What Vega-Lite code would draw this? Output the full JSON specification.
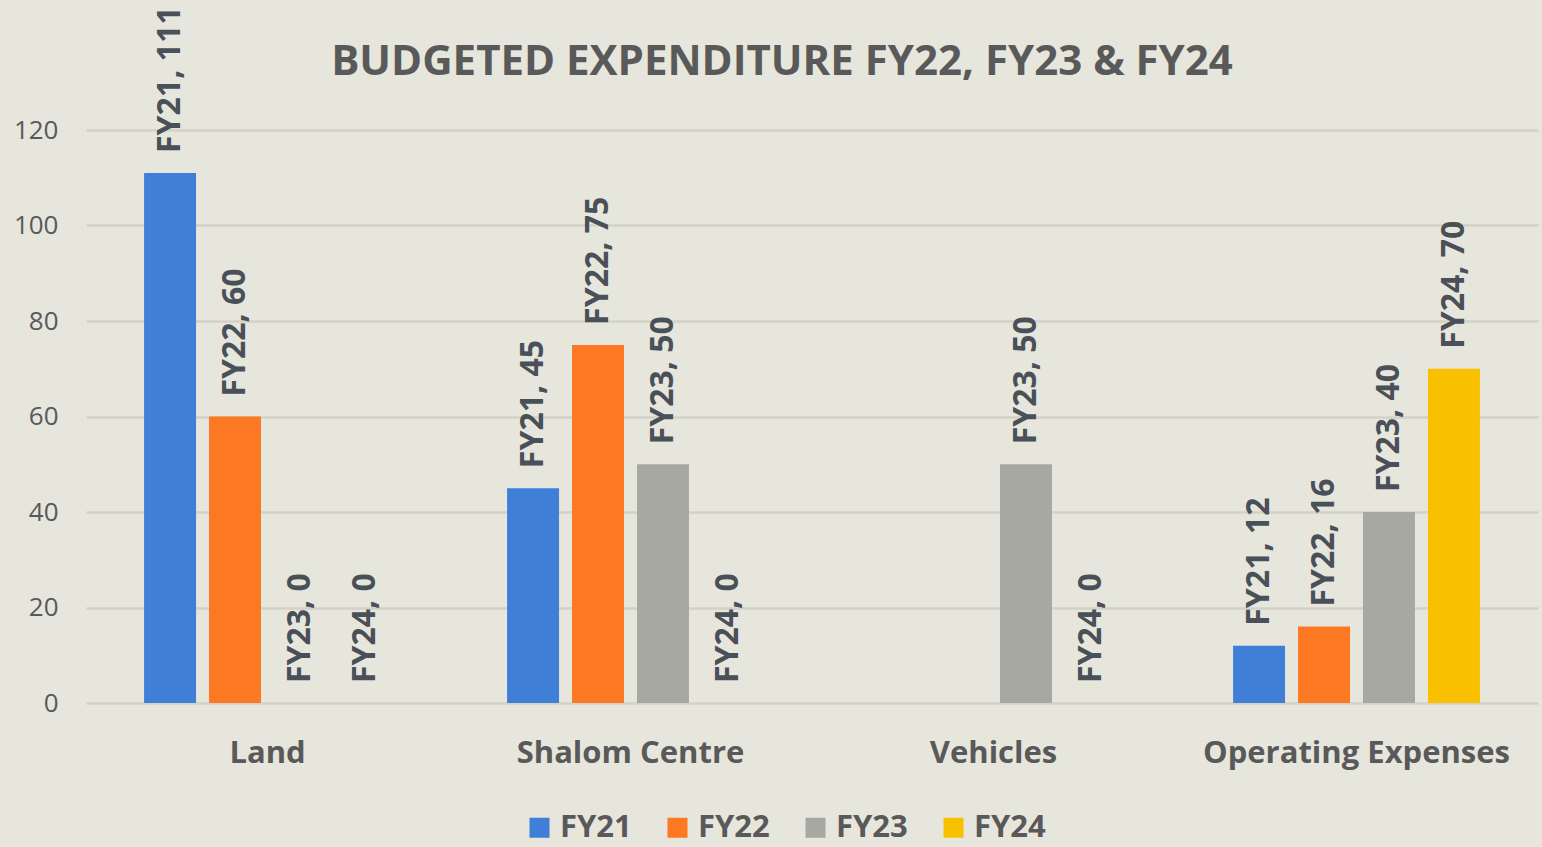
{
  "$schema": "https://vega.github.io/schema/vega-lite/v6.json",
  "width": 1452,
  "height": 573,
  "autosize": {"type": "none"},
  "padding": {"left": 86, "top": 130, "right": 4, "bottom": 144},
  "background": "#e6e6dc",
  "title": {
    "text": "BUDGETED EXPENDITURE FY22, FY23 & FY24",
    "font": "Open Sans",
    "fontSize": 42,
    "fontWeight": "bold",
    "color": "#595959",
    "anchor": "middle",
    "dx": -30,
    "offset": -77
  },
  "data": {
    "values": [
      {"category": "Land", "year": "FY21", "value": 111, "label": "FY21, 111"},
      {"category": "Land", "year": "FY22", "value": 60, "label": "FY22, 60"},
      {"category": "Land", "year": "FY23", "value": 0, "label": "FY23, 0"},
      {"category": "Land", "year": "FY24", "value": 0, "label": "FY24, 0"},
      {"category": "Shalom Centre", "year": "FY21", "value": 45, "label": "FY21, 45"},
      {"category": "Shalom Centre", "year": "FY22", "value": 75, "label": "FY22, 75"},
      {"category": "Shalom Centre", "year": "FY23", "value": 50, "label": "FY23, 50"},
      {"category": "Shalom Centre", "year": "FY24", "value": 0, "label": "FY24, 0"},
      {"category": "Vehicles", "year": "FY23", "value": 50, "label": "FY23, 50"},
      {"category": "Vehicles", "year": "FY24", "value": 0, "label": "FY24, 0"},
      {"category": "Operating Expenses", "year": "FY21", "value": 12, "label": "FY21, 12"},
      {"category": "Operating Expenses", "year": "FY22", "value": 16, "label": "FY22, 16"},
      {"category": "Operating Expenses", "year": "FY23", "value": 40, "label": "FY23, 40"},
      {"category": "Operating Expenses", "year": "FY24", "value": 70, "label": "FY24, 70"}
    ]
  },
  "encoding": {
    "x": {
      "field": "category",
      "type": "nominal",
      "sort": ["Land", "Shalom Centre", "Vehicles", "Operating Expenses"],
      "scale": {"paddingInner": 0.32, "paddingOuter": 0.16},
      "axis": {
        "title": null,
        "labelAngle": 0,
        "labelFont": "Open Sans",
        "labelFontSize": 31,
        "labelFontWeight": "bold",
        "labelColor": "#595959",
        "labelPadding": 35,
        "labelBaseline": "top",
        "labelLimit": 0,
        "domain": false,
        "ticks": false
      }
    },
    "xOffset": {
      "field": "year",
      "type": "nominal",
      "scale": {"domain": ["FY21", "FY22", "FY23", "FY24"], "paddingInner": 0.2, "paddingOuter": 0}
    },
    "y": {
      "field": "value",
      "type": "quantitative",
      "scale": {"domain": [0, 120], "nice": false},
      "axis": {
        "title": null,
        "values": [0, 20, 40, 60, 80, 100, 120],
        "labelFont": "Open Sans",
        "labelFontSize": 26,
        "labelColor": "#595959",
        "labelPadding": 28,
        "domain": false,
        "ticks": false,
        "gridColor": "#d2d2c8",
        "gridWidth": 2.5
      }
    }
  },
  "layer": [
    {
      "mark": {"type": "bar"},
      "encoding": {
        "color": {
          "field": "year",
          "type": "nominal",
          "scale": {
            "domain": ["FY21", "FY22", "FY23", "FY24"],
            "range": ["#3f7fd8", "#fd7823", "#a8a8a3", "#f9c000"]
          },
          "legend": {
            "title": null,
            "orient": "none",
            "legendX": 438,
            "legendY": 682,
            "direction": "horizontal",
            "symbolType": "square",
            "symbolSize": 400,
            "symbolStrokeWidth": 0,
            "labelFont": "Open Sans",
            "labelFontSize": 31,
            "labelFontWeight": "bold",
            "labelColor": "#595959",
            "columnPadding": 30,
            "labelOffset": 5
          }
        }
      }
    },
    {
      "mark": {
        "type": "text",
        "angle": 270,
        "align": "left",
        "baseline": "middle",
        "dx": 20,
        "font": "Open Sans",
        "fontSize": 32,
        "fontWeight": "bold",
        "color": "#4a5058"
      },
      "encoding": {
        "text": {"field": "label", "type": "nominal"}
      }
    }
  ],
  "config": {
    "view": {"stroke": null}
  }
}
